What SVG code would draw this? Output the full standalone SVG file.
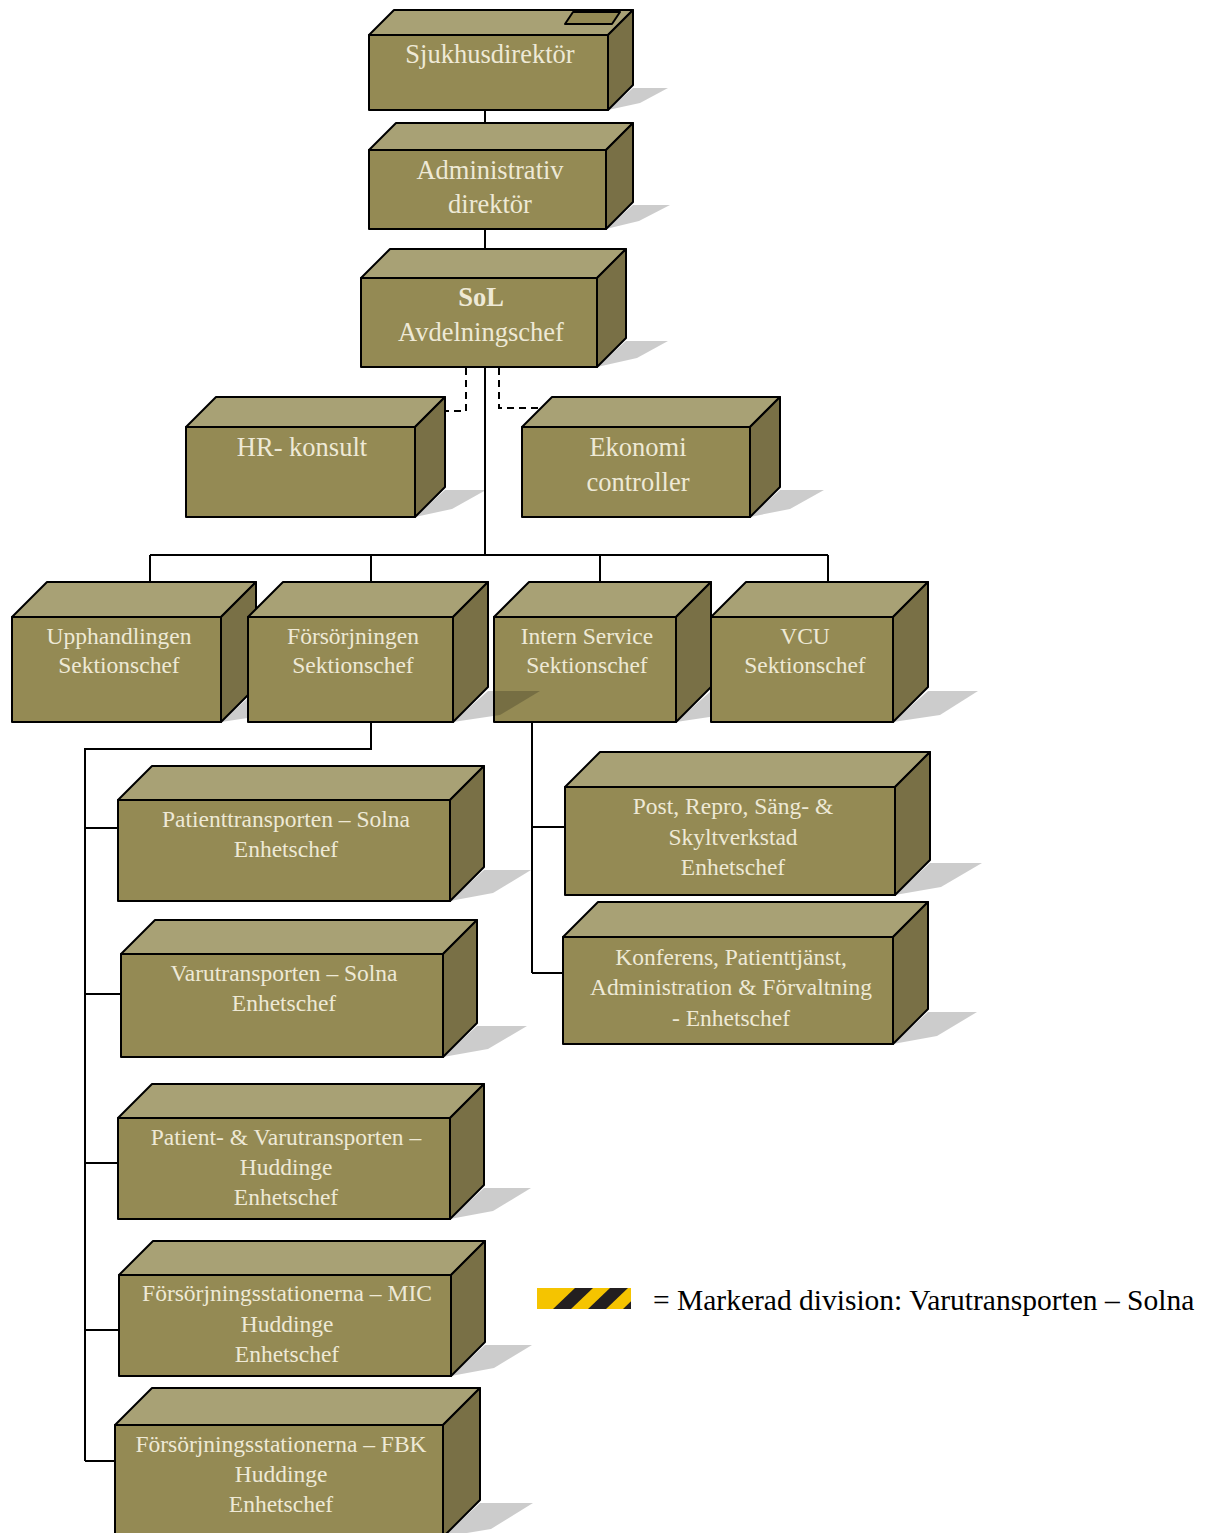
<svg xmlns="http://www.w3.org/2000/svg" width="1212" height="1533" viewBox="0 0 1212 1533">
  <style>
    .front { fill: #948A54; stroke: #000; stroke-width: 2; stroke-linejoin: round; }
    .top { fill: #A8A175; stroke: #000; stroke-width: 2; stroke-linejoin: round; }
    .side { fill: #797046; stroke: #000; stroke-width: 2; stroke-linejoin: round; }
    .shadow { fill: #000; fill-opacity: 0.2; }
    .conn { fill: none; stroke: #000; stroke-width: 2; }
    .dash { fill: none; stroke: #000; stroke-width: 2; stroke-dasharray: 7 5; }
    text { font-family: "Liberation Serif", "Times New Roman", serif; fill: #EEE9D6; text-anchor: middle; }
    .big { font-size: 26.5px; }
    .mid { font-size: 23.5px; }
    .bold { font-weight: bold; }
    .legend { font-size: 29.5px; fill: #000; text-anchor: start; }
  </style>
  <defs>
    <clipPath id="stripeClip"><rect x="537" y="1288" width="94" height="21"/></clipPath>
  </defs>

  <rect width="1212" height="1533" fill="#fff"/>

  <!-- connectors -->
  <g id="connectors">
    <path class="conn" d="M485 110V150M485 229V278M485 367V555"/>
    <path class="dash" d="M466 368V411H445"/>
    <path class="dash" d="M499 368V408H545"/>
    <path class="conn" d="M150 555H828M150 555V600M371 555V600M600 555V600M828 555V600"/>
    <path class="conn" d="M371 722V749H85M85 748V1461M85 828H122M85 994H124M85 1163H121M85 1330H122M85 1461H118"/>
    <path class="conn" d="M532 722V973M532 827H567M532 973H565"/>
  </g>

  <!-- level 1 -->
  <g id="sjukhusdirektor">
    <polygon class="shadow" points="608,110 633,88 668,88 640,103"/>
    <rect class="front" x="369" y="35" width="239" height="75"/>
    <polygon class="top" points="369,35 394,10 633,10 608,35"/>
    <polygon class="side" points="608,35 633,10 633,85 608,110"/>
    <polygon class="front" points="573,12 620,12 612,24 565,24"/>
    <text class="big" x="490" y="63">Sjukhusdirektör</text>
  </g>

  <g id="administrativ">
    <polygon class="shadow" points="606,229 633,205 670,205 639,221"/>
    <rect class="front" x="369" y="150" width="237" height="79"/>
    <polygon class="top" points="369,150 396,123 633,123 606,150"/>
    <polygon class="side" points="606,150 633,123 633,202 606,229"/>
    <text class="big" x="490" y="179">Administrativ</text>
    <text class="big" x="490" y="213">direktör</text>
  </g>

  <g id="sol">
    <polygon class="shadow" points="597,367 626,341 668,341 637,358"/>
    <rect class="front" x="361" y="278" width="236" height="89"/>
    <polygon class="top" points="361,278 390,249 626,249 597,278"/>
    <polygon class="side" points="597,278 626,249 626,338 597,367"/>
    <text class="big bold" x="481" y="306">SoL</text>
    <text class="big" x="481" y="341">Avdelningschef</text>
  </g>

  <g id="hr-konsult">
    <polygon class="shadow" points="415,517 445,490 486,490 452,509"/>
    <rect class="front" x="186" y="427" width="229" height="90"/>
    <polygon class="top" points="186,427 216,397 445,397 415,427"/>
    <polygon class="side" points="415,427 445,397 445,487 415,517"/>
    <text class="big" x="302" y="456">HR- konsult</text>
  </g>

  <g id="ekonomi">
    <polygon class="shadow" points="750,517 780,490 824,490 790,509"/>
    <rect class="front" x="522" y="427" width="228" height="90"/>
    <polygon class="top" points="522,427 552,397 780,397 750,427"/>
    <polygon class="side" points="750,427 780,397 780,487 750,517"/>
    <text class="big" x="638" y="456">Ekonomi</text>
    <text class="big" x="638" y="491">controller</text>
  </g>

  <!-- sections -->
  <g id="upphandlingen">
    <polygon class="shadow" points="221,722 256,691 308,691 268,715"/>
    <rect class="front" x="12" y="617" width="209" height="105"/>
    <polygon class="top" points="12,617 47,582 256,582 221,617"/>
    <polygon class="side" points="221,617 256,582 256,687 221,722"/>
    <text class="mid" x="119" y="644">Upphandlingen</text>
    <text class="mid" x="119" y="673">Sektionschef</text>
  </g>

  <g id="intern-service">
    <polygon class="shadow" points="676,722 711,691 763,691 723,715"/>
    <rect class="front" x="494" y="617" width="182" height="105"/>
    <polygon class="top" points="494,617 529,582 711,582 676,617"/>
    <polygon class="side" points="676,617 711,582 711,687 676,722"/>
    <text class="mid" x="587" y="644">Intern Service</text>
    <text class="mid" x="587" y="673">Sektionschef</text>
  </g>

  <g id="forsorjningen">
    <polygon class="shadow" points="453,722 488,691 540,691 500,715"/>
    <rect class="front" x="248" y="617" width="205" height="105"/>
    <polygon class="top" points="248,617 283,582 488,582 453,617"/>
    <polygon class="side" points="453,617 488,582 488,687 453,722"/>
    <text class="mid" x="353" y="644">Försörjningen</text>
    <text class="mid" x="353" y="673">Sektionschef</text>
  </g>

  <g id="vcu">
    <polygon class="shadow" points="893,722 928,691 978,691 940,715"/>
    <rect class="front" x="711" y="617" width="182" height="105"/>
    <polygon class="top" points="711,617 746,582 928,582 893,617"/>
    <polygon class="side" points="893,617 928,582 928,687 893,722"/>
    <text class="mid" x="805" y="644">VCU</text>
    <text class="mid" x="805" y="673">Sektionschef</text>
  </g>

  <!-- units under Försörjningen -->
  <g id="patienttransporten-solna">
    <polygon class="shadow" points="450,901 484,870 531,870 493,893"/>
    <rect class="front" x="118" y="800" width="332" height="101"/>
    <polygon class="top" points="118,800 152,766 484,766 450,800"/>
    <polygon class="side" points="450,800 484,766 484,867 450,901"/>
    <text class="mid" x="286" y="827">Patienttransporten – Solna</text>
    <text class="mid" x="286" y="857">Enhetschef</text>
  </g>

  <g id="varutransporten-solna">
    <polygon class="shadow" points="443,1057 477,1026 527,1026 488,1049"/>
    <rect class="front" x="121" y="954" width="322" height="103"/>
    <polygon class="top" points="121,954 155,920 477,920 443,954"/>
    <polygon class="side" points="443,954 477,920 477,1023 443,1057"/>
    <text class="mid" x="284" y="981">Varutransporten – Solna</text>
    <text class="mid" x="284" y="1011">Enhetschef</text>
  </g>

  <g id="patient-varutransporten-huddinge">
    <polygon class="shadow" points="450,1219 484,1188 531,1188 493,1211"/>
    <rect class="front" x="118" y="1118" width="332" height="101"/>
    <polygon class="top" points="118,1118 152,1084 484,1084 450,1118"/>
    <polygon class="side" points="450,1118 484,1084 484,1185 450,1219"/>
    <text class="mid" x="286" y="1145">Patient- &amp; Varutransporten –</text>
    <text class="mid" x="286" y="1175">Huddinge</text>
    <text class="mid" x="286" y="1205">Enhetschef</text>
  </g>

  <g id="forsorjningsstationerna-mic">
    <polygon class="shadow" points="451,1376 485,1345 532,1345 494,1368"/>
    <rect class="front" x="119" y="1275" width="332" height="101"/>
    <polygon class="top" points="119,1275 153,1241 485,1241 451,1275"/>
    <polygon class="side" points="451,1275 485,1241 485,1342 451,1376"/>
    <text class="mid" x="287" y="1301">Försörjningsstationerna – MIC</text>
    <text class="mid" x="287" y="1332">Huddinge</text>
    <text class="mid" x="287" y="1362">Enhetschef</text>
  </g>

  <g id="forsorjningsstationerna-fbk">
    <polygon class="shadow" points="443,1537 480,1503 533,1503 491,1529"/>
    <rect class="front" x="115" y="1425" width="328" height="112"/>
    <polygon class="top" points="115,1425 152,1388 480,1388 443,1425"/>
    <polygon class="side" points="443,1425 480,1388 480,1500 443,1537"/>
    <text class="mid" x="281" y="1452">Försörjningsstationerna – FBK</text>
    <text class="mid" x="281" y="1482">Huddinge</text>
    <text class="mid" x="281" y="1512">Enhetschef</text>
  </g>

  <!-- units under Intern Service -->
  <g id="post-repro">
    <polygon class="shadow" points="895,895 930,863 982,863 941,887"/>
    <rect class="front" x="565" y="787" width="330" height="108"/>
    <polygon class="top" points="565,787 600,752 930,752 895,787"/>
    <polygon class="side" points="895,787 930,752 930,860 895,895"/>
    <text class="mid" x="733" y="814">Post, Repro, Säng- &amp;</text>
    <text class="mid" x="733" y="845">Skyltverkstad</text>
    <text class="mid" x="733" y="875">Enhetschef</text>
  </g>

  <g id="konferens">
    <polygon class="shadow" points="893,1044 928,1012 977,1012 937,1036"/>
    <rect class="front" x="563" y="937" width="330" height="107"/>
    <polygon class="top" points="563,937 598,902 928,902 893,937"/>
    <polygon class="side" points="893,937 928,902 928,1009 893,1044"/>
    <text class="mid" x="731" y="965">Konferens, Patienttjänst,</text>
    <text class="mid" x="731" y="995">Administration &amp; Förvaltning</text>
    <text class="mid" x="731" y="1026">- Enhetschef</text>
  </g>

  <!-- legend -->
  <g id="legend">
    <g clip-path="url(#stripeClip)">
      <rect x="537" y="1288" width="94" height="21" fill="#F5C400"/>
      <polygon points="553,1309 571,1309 593,1288 575,1288" fill="#231F20"/>
      <polygon points="588,1309 606,1309 628,1288 610,1288" fill="#231F20"/>
      <polygon points="623,1309 641,1309 663,1288 645,1288" fill="#231F20"/>
    </g>
    <text class="legend" x="653" y="1310">= Markerad division: Varutransporten – Solna</text>
  </g>
</svg>
